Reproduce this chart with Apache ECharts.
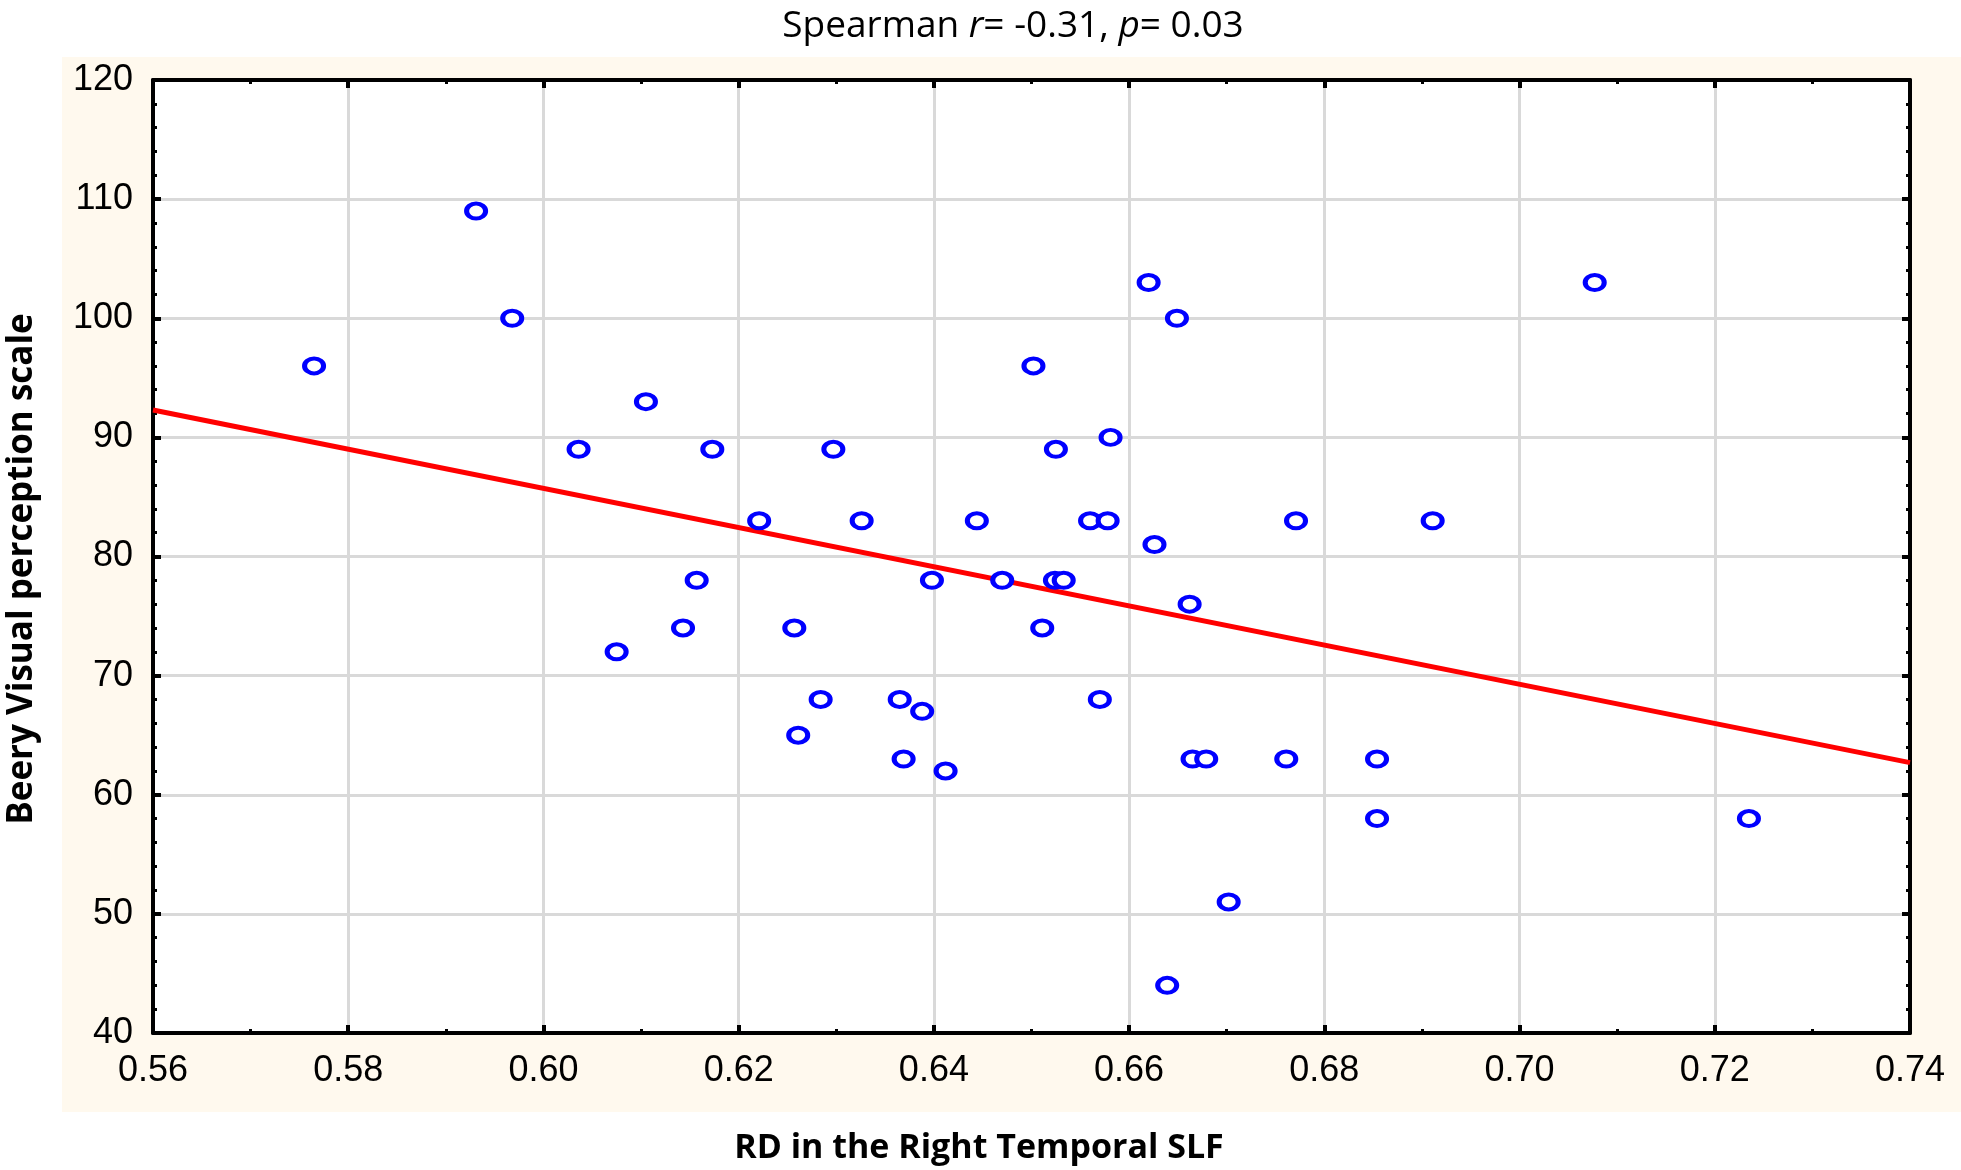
<!DOCTYPE html>
<html>
<head>
<meta charset="utf-8">
<script src="https://cdn.jsdelivr.net/npm/echarts@6/dist/echarts.min.js"></script>
<style>
html,body{margin:0;padding:0;background:#ffffff;}
#chart{width:1961px;height:1170px;}
</style>
</head>
<body>
<div id="chart"></div>
<script>
// RD in the Right Temporal SLF
const rdValues = [
  0.5765, 0.5931, 0.5968, 0.6036, 0.6075, 0.6105, 0.6143, 0.6157, 0.6173, 0.6221,
  0.6257, 0.6261, 0.6284, 0.6297, 0.6326, 0.6365, 0.6369, 0.6388, 0.6398, 0.6412,
  0.6444, 0.6470, 0.6502, 0.6511, 0.6524, 0.6533, 0.6525, 0.6560, 0.6570, 0.6578,
  0.6581, 0.6620, 0.6626, 0.6639, 0.6649, 0.6662, 0.6665, 0.6679, 0.6702, 0.6761,
  0.6771, 0.6854, 0.6854, 0.6911, 0.7077, 0.7235
];
// Beery Visual perception scale
const beeryValues = [
  96, 109, 100, 89, 72, 93, 74, 78, 89, 83,
  74, 65, 68, 89, 83, 68, 63, 67, 78, 62,
  83, 78, 96, 74, 78, 78, 89, 83, 68, 83,
  90, 103, 81, 44, 100, 76, 63, 63, 51, 63,
  83, 63, 58, 83, 103, 58
];
// regression line end points
const fitX = [0.56, 0.74];
const fitY = [92.3, 62.7];

const xTicks = { min: 0.56, max: 0.74, step: 0.02 };
const yTicks = { min: 40, max: 120, step: 10 };

const xName = 'RD in the Right Temporal SLF';
const yName = 'Beery Visual perception scale';

const scatterData = rdValues.map((x, i) => [x, beeryValues[i]]);
const fitData = fitX.map((x, i) => [x, fitY[i]]);

const chart = echarts.init(document.getElementById('chart'), null, { renderer: 'canvas' });

const tickFont = "'Liberation Sans', Arial, sans-serif";
const textFont = "'Open Sans', 'Noto Sans', sans-serif";

function xAxisBase(extra) {
  return Object.assign({
    type: 'value',
    min: xTicks.min, max: xTicks.max, interval: xTicks.step,
    axisLine: { show: true, onZero: false, lineStyle: { color: '#000', width: 4 } },
    axisTick: { show: true, inside: true, length: 8, lineStyle: { color: '#000', width: 4 } },
    minorTick: { show: true, splitNumber: 2, length: 4, lineStyle: { color: '#000', width: 3 } },
    splitLine: { show: false },
    axisLabel: { show: false }
  }, extra);
}
function yAxisBase(extra) {
  return Object.assign({
    type: 'value',
    min: yTicks.min, max: yTicks.max, interval: yTicks.step,
    axisLine: { show: true, onZero: false, lineStyle: { color: '#000', width: 4 } },
    axisTick: { show: true, inside: true, length: 8, lineStyle: { color: '#000', width: 4 } },
    minorTick: { show: true, splitNumber: 5, length: 4, lineStyle: { color: '#000', width: 3 } },
    splitLine: { show: false },
    axisLabel: { show: false }
  }, extra);
}

const option = {
  backgroundColor: '#ffffff',
  animation: false,
  title: {
    text: '{n|Spearman }{i|r}{n|= -0.31, }{i|p}{n|= 0.03}',
    left: 1008,
    textAlign: 'center',
    top: 3,
    textStyle: {
      fontWeight: 'normal',
      rich: {
        n: { fontFamily: textFont, fontSize: 37, fontWeight: 'normal', color: '#000' },
        i: { fontFamily: textFont, fontSize: 37, fontWeight: 'normal', fontStyle: 'italic', color: '#000' }
      }
    }
  },
  graphic: {
    elements: [
      {
        type: 'rect', z: -100, silent: true,
        shape: { x: 62, y: 57, width: 1899, height: 1055 },
        style: { fill: '#FFF9EE' }
      },
      {
        type: 'text', silent: true,
        x: 979, y: 1148,
        style: {
          text: xName, fontFamily: textFont, fontWeight: 'bold', fontSize: 34,
          fill: '#000', align: 'center', verticalAlign: 'middle'
        }
      },
      {
        type: 'text', silent: true,
        x: 22, y: 569, rotation: Math.PI / 2,
        style: {
          text: yName, fontFamily: textFont, fontWeight: 'bold', fontSize: 35,
          fill: '#000', align: 'center', verticalAlign: 'middle'
        }
      }
    ]
  },
  grid: {
    left: 153, right: 51, top: 80, bottom: 137,
    show: true, backgroundColor: '#ffffff', borderWidth: 0
  },
  xAxis: [
    xAxisBase({
      position: 'bottom',
      splitLine: { show: true, lineStyle: { color: '#d9d9d9', width: 3 } },
      axisLabel: {
        show: true, margin: 20, fontFamily: tickFont, fontSize: 36, color: '#000',
        formatter: v => v.toFixed(2)
      }
    }),
    xAxisBase({ position: 'top' })
  ],
  yAxis: [
    yAxisBase({
      position: 'left',
      splitLine: { show: true, lineStyle: { color: '#d9d9d9', width: 3 } },
      axisLabel: {
        show: true, margin: 20, fontFamily: tickFont, fontSize: 36, color: '#000',
        formatter: v => String(v)
      }
    }),
    yAxisBase({ position: 'right' })
  ],
  series: [
    {
      type: 'line',
      xAxisIndex: 0, yAxisIndex: 0,
      data: fitData,
      symbol: 'none',
      lineStyle: { color: '#ff0000', width: 5 },
      z: 2
    },
    {
      type: 'scatter',
      xAxisIndex: 0, yAxisIndex: 0,
      data: scatterData,
      symbol: 'circle',
      symbolSize: [19, 15],
      itemStyle: { color: '#ffffff', borderColor: '#0000ff', borderWidth: 4.5, opacity: 1 },
      z: 3
    }
  ]
};
chart.setOption(option);
</script>
</body>
</html>
